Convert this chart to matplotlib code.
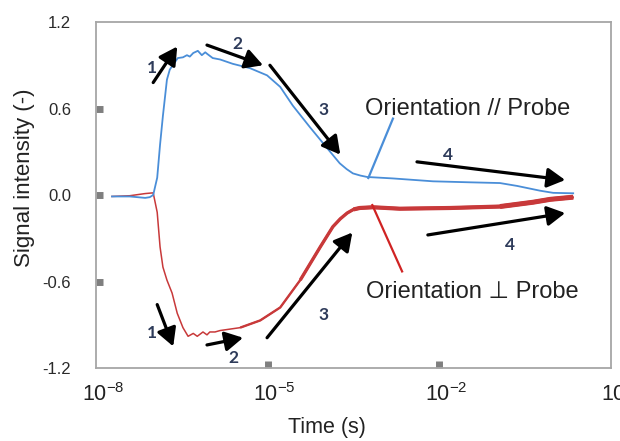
import numpy as np
import matplotlib
matplotlib.use("Agg")
import matplotlib.pyplot as plt
from matplotlib.transforms import ScaledTranslation

plt.rcParams['font.family'] = ['Liberation Sans', 'DejaVu Sans']
plt.rcParams['mathtext.fontset'] = 'custom'
plt.rcParams['mathtext.rm'] = 'Liberation Sans'
plt.rcParams['mathtext.it'] = 'Liberation Sans'

# Signal traces, time given as log10(seconds)
parallel_log_t = [-7.72, -7.41, -7.14, -7.06, -7.00, -6.93, -6.88, -6.83, -6.76, -6.71,
                  -6.57, -6.48, -6.41, -6.36, -6.30, -6.22, -6.15, -6.09, -6.06, -5.96,
                  -5.83, -5.61, -5.31, -5.01, -4.78, -4.56, -4.26, -3.97, -3.74, -3.62,
                  -3.51, -3.38, -3.26, -2.81, -2.11, -1.46, -0.94, -0.64, -0.24, -0.01, 0.34]
parallel_signal = [-0.01, -0.01, -0.02, -0.015, 0.0, 0.12, 0.35, 0.55, 0.80, 0.87,
                   0.95, 0.955, 0.97, 0.96, 0.985, 1.00, 0.97, 0.99, 0.98, 0.95,
                   0.94, 0.91, 0.88, 0.83, 0.75, 0.62, 0.47, 0.33, 0.22, 0.18,
                   0.15, 0.135, 0.125, 0.115, 0.095, 0.088, 0.083, 0.063, 0.03, 0.015, 0.012]

perp_log_t = [-7.72, -7.41, -7.14, -7.00, -6.93, -6.88, -6.83, -6.76, -6.67, -6.58,
              -6.48, -6.39, -6.30, -6.23, -6.13, -6.06, -6.01, -5.92, -5.83, -5.48,
              -5.13, -4.78, -4.43, -4.08, -3.86, -3.73, -3.61, -3.50, -3.39, -3.16,
              -2.69, -1.81, -0.94, -0.36, -0.06, 0.34]
perp_signal = [-0.01, -0.005, 0.01, 0.015, -0.12, -0.36, -0.50, -0.59, -0.68, -0.82,
               -0.92, -0.98, -0.96, -0.98, -0.95, -0.97, -0.95, -0.95, -0.94, -0.92,
               -0.87, -0.78, -0.59, -0.36, -0.22, -0.165, -0.125, -0.10, -0.09, -0.085,
               -0.095, -0.09, -0.08, -0.05, -0.03, -0.015]

y_ticks = [-1.2, -0.6, 0.0, 0.6, 1.2]
y_tick_labels = ['-1.2', '-0.6', '0.0', '0.6', '1.2']
x_tick_exponents = [-8, -5, -2, 1]
x_inner_marks = [1e-5, 1e-2]
y_inner_marks = [-0.6, 0.0, 0.6]

# Stage arrows: (tail log_t, tail value, head log_t, head value, label, label log_t, label value)
parallel_stages = [
    (-7.00, 0.78, -6.58, 1.03, '1', -7.02, 0.88),
    (-6.06, 1.04, -5.08, 0.90, '2', -5.53, 1.05),
    (-4.96, 0.90, -3.73, 0.28, '3', -4.03, 0.59),
    (-2.39, 0.23, 0.20, 0.104, '4', -1.85, 0.28),
]
perp_stages = [
    (-6.93, -0.76, -6.65, -1.05, '1', -7.02, -0.957),
    (-6.06, -1.04, -5.43, -0.99, '2', -5.60, -1.13),
    (-5.01, -0.99, -3.52, -0.26, '3', -4.03, -0.83),
    (-2.20, -0.277, 0.20, -0.125, '4', -0.76, -0.346),
]

blue = '#4A8ED8'
red = '#C8393A'
num_color = '#2E3B5A'

fig = plt.figure(figsize=(6.2, 4.41), dpi=100)
ax = fig.add_axes([0.1548, 0.1655, 0.8306, 0.7846])

t_par = 10.0 ** np.array(parallel_log_t)
t_perp = 10.0 ** np.array(perp_log_t)
s_perp = np.array(perp_signal)
lt_perp = np.array(perp_log_t)

ax.plot(t_par, parallel_signal, color=blue, lw=1.3, zorder=3)
ax.plot(t_perp, s_perp, color=red, lw=1.1, zorder=2)
# noisier late-time part of the perpendicular trace drawn heavier
for start, lw in [(-5.6, 1.7), (-4.5, 2.4), (-3.5, 3.0), (-1.0, 3.6)]:
    m = lt_perp >= start
    ax.plot(t_perp[m], s_perp[m], color=red, lw=lw, zorder=2, solid_capstyle='butt')

ax.set_xscale('log')
ax.set_xlim(1e-8, 1e1)
ax.set_ylim(-1.2, 1.2)

ax.set_yticks(y_ticks)
ax.set_yticklabels(y_tick_labels)
ax.set_xticks([10.0 ** e for e in x_tick_exponents])
ax.set_xticklabels([r'$\mathregular{10^{%d}}$' % e for e in x_tick_exponents])
ax.xaxis.remove_overlapping_locs = False
ax.yaxis.remove_overlapping_locs = False
ax.xaxis.set_minor_locator(matplotlib.ticker.FixedLocator(x_inner_marks))
ax.yaxis.set_minor_locator(matplotlib.ticker.FixedLocator(y_inner_marks))
ax.xaxis.set_minor_formatter(matplotlib.ticker.NullFormatter())
ax.yaxis.set_minor_formatter(matplotlib.ticker.NullFormatter())
ax.tick_params(which='major', length=0)
ax.tick_params(axis='y', which='major', pad=18, labelsize=12, labelcolor='#2a2a2a')
ax.tick_params(axis='x', which='major', pad=11, labelsize=15.5, labelcolor='#222222')
ax.tick_params(which='minor', direction='in', length=5, width=5, color='#7f7f7f')

shift = ScaledTranslation(7 / 100, 0, fig.dpi_scale_trans)
for lab in ax.get_xticklabels():
    lab.set_transform(lab.get_transform() + shift)

for sp in ax.spines.values():
    sp.set_color('#A6A6A6')
    sp.set_linewidth(1.3)

ax.set_ylabel('Signal intensity (-)', fontsize=16, color='#222222')
ax.yaxis.set_label_coords(-0.118, 0.55)
ax.set_xlabel('Time (s)', fontsize=15.5, color='#222222')
ax.xaxis.set_label_coords(0.449, -0.143)

for stages in (parallel_stages, perp_stages):
    for x0, y0, x1, y1, lab, lx, ly in stages:
        ax.annotate('', xy=(10 ** x1, y1), xytext=(10 ** x0, y0),
                    arrowprops=dict(arrowstyle='-|>,head_length=0.6,head_width=0.33',
                                    color='black', lw=2.3, shrinkA=0, shrinkB=0,
                                    mutation_scale=18), zorder=4)
        ax.text(10 ** lx, ly, lab, fontsize=12.5, fontweight='bold', color=num_color,
                family=['Lato', 'DejaVu Sans'], ha='center', va='center', zorder=5)

# series call-outs
ax.plot([10 ** -2.81, 10 ** -3.24], [0.53, 0.118], color=blue, lw=1.6, zorder=4)
ax.text(10 ** -1.50, 0.60, 'Orientation // Probe', fontsize=17, color='#222222',
        ha='center', va='center')
ax.plot([10 ** -3.17, 10 ** -2.65], [-0.07, -0.53], color='#D02323', lw=1.6, zorder=4)
ax.text(10 ** -1.43, -0.67, 'Orientation \u22a5 Probe', fontsize=17, color='#222222',
        ha='center', va='center')

fig.savefig('out.png', dpi=100)
